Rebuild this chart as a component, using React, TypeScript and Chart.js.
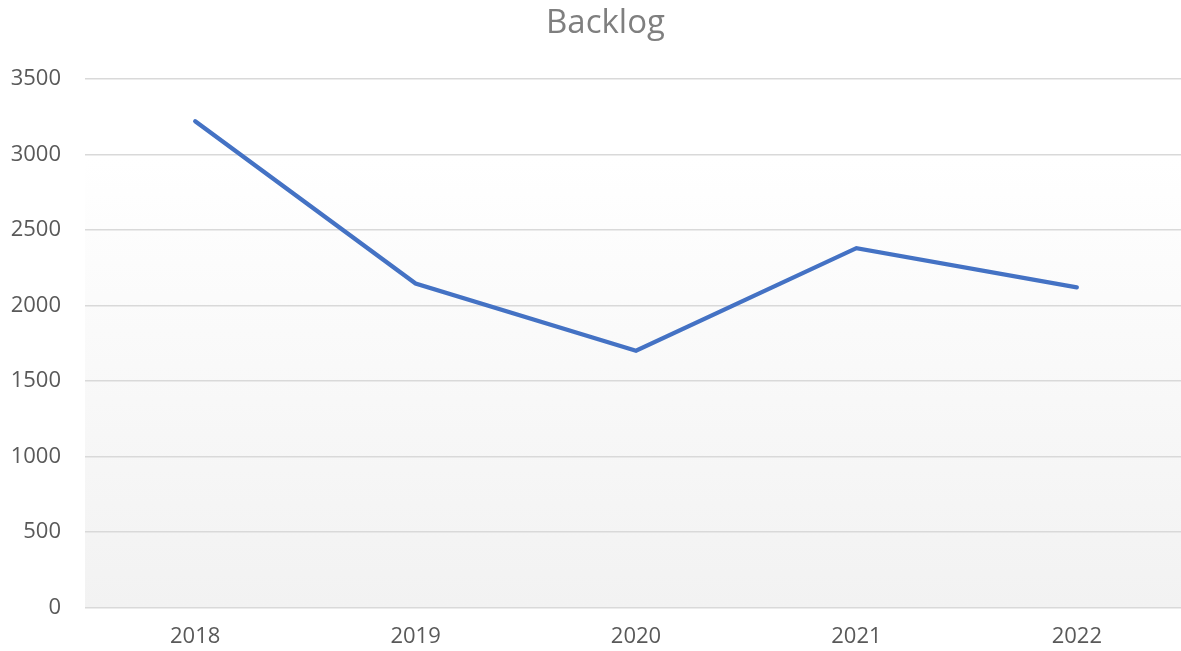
import React, { useEffect, useRef } from "react";
import { Chart, registerables } from "chart.js";

Chart.register(...registerables);

const categories = ["2018", "2019", "2020", "2021", "2022"];
const backlogValues = [3220, 2145, 1700, 2380, 2120];
const yTicks = [0, 500, 1000, 1500, 2000, 2500, 3000, 3500];
const chartTitle = "Backlog";

const plotBackground = {
  id: "plotBackground",
  afterLayout(chart: any) {
    if (chart.titleBlock) {
      chart.titleBlock.left = 24;
    }
  },
  beforeDraw(chart: any) {
    const { ctx, chartArea } = chart;
    if (!chartArea) return;
    const g = ctx.createLinearGradient(0, chartArea.top, 0, chartArea.bottom);
    g.addColorStop(0, "#ffffff");
    g.addColorStop(0.15, "#ffffff");
    g.addColorStop(1, "#f2f2f2");
    ctx.save();
    ctx.fillStyle = g;
    ctx.fillRect(chartArea.left, chartArea.top, chartArea.right - chartArea.left, chartArea.bottom - chartArea.top);
    ctx.restore();
  },
};

export default function App() {
  const ref = useRef<HTMLCanvasElement>(null);

  useEffect(() => {
    document.body.style.margin = "0";
    const canvas = ref.current;
    if (!canvas) return;
    const chart = new Chart(canvas, {
      type: "line",
      data: {
        labels: categories,
        datasets: [
          {
            label: chartTitle,
            data: backlogValues,
            borderColor: "#4472C4",
            backgroundColor: "#4472C4",
            borderWidth: 4.3,
            pointRadius: 0,
            pointHoverRadius: 0,
            tension: 0,
            borderCapStyle: "round",
            borderJoinStyle: "miter",
            fill: false,
          },
        ],
      },
      plugins: [plotBackground],
      options: {
        responsive: false,
        animation: false,
        devicePixelRatio: 1,
        layout: { padding: { left: 0, right: 0, top: 0, bottom: 0 } },
        plugins: {
          legend: { display: false },
          tooltip: { enabled: false },
          title: {
            display: true,
            text: chartTitle,
            color: "#7f7f7f",
            font: { family: "'Open Sans'", size: 33, weight: "normal", lineHeight: 1.2 },
            padding: { top: 3.5, bottom: 35.9 },
          },
        },
        scales: {
          x: {
            offset: true,
            grid: { display: false, drawTicks: false },
            border: { display: false },
            ticks: {
              color: "#595959",
              font: { family: "'Open Sans'", size: 22 },
              padding: 16,
              maxRotation: 0,
            },
            afterFit(scale: any) {
              scale.height = 43.5;
            },
          },
          y: {
            min: 0,
            max: 3500,
            afterBuildTicks(scale: any) {
              scale.ticks = yTicks.map((v) => ({ value: v }));
            },
            grid: { color: "#d9d9d9", lineWidth: 1.5, drawTicks: false },
            border: { display: false },
            ticks: {
              color: "#595959",
              font: { family: "'Open Sans'", size: 22 },
              padding: 24,
              callback: (v: any) => String(v),
            },
            afterFit(scale: any) {
              scale.width = 85;
            },
          },
        },
      },
    });
    return () => chart.destroy();
  }, []);

  return (
    <div style={{ width: 1181, height: 651, overflow: "hidden", position: "relative", background: "#fff" }}>
      <canvas ref={ref} width={1187} height={651} style={{ display: "block" }} />
    </div>
  );
}
